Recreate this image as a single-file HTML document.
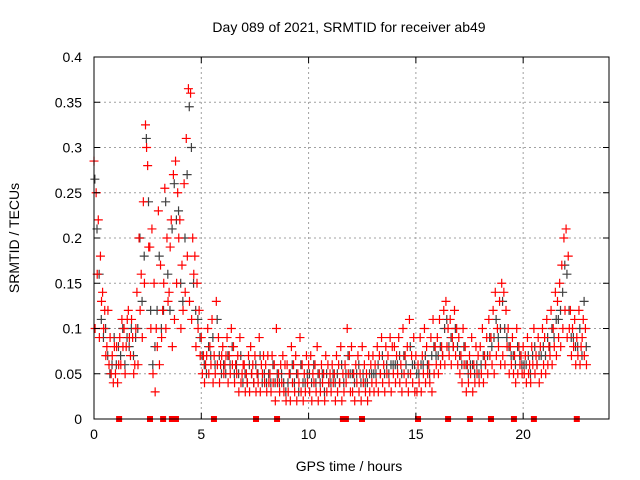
<!DOCTYPE html>
<html><head><meta charset="utf-8"><style>
body{margin:0;background:#fff}
svg{display:block;font-family:"Liberation Sans",sans-serif}
</style></head><body>
<svg id="chart" width="640" height="480" xmlns="http://www.w3.org/2000/svg">
<text x="349" y="32" font-size="14" text-anchor="middle" fill="#000">Day 089 of 2021, SRMTID for receiver ab49</text>
<text x="349" y="471" font-size="14" text-anchor="middle" fill="#000">GPS time / hours</text>
<text transform="translate(19,238) rotate(-90)" font-size="14" text-anchor="middle" fill="#000">SRMTID / TECUs</text>
<g id="grid"></g><g id="blk"></g><g id="red"></g><g id="sq"></g><g id="axes"></g>
</svg>
<script>
const hours=[0.0,0.1,0.2,0.3,0.4,0.5,0.6,0.7,0.8,0.9,1.0,1.1,1.2,1.3,1.4,1.5,1.6,1.7,1.8,1.9,2.0,2.1,2.2,2.3,2.4,2.5,2.6,2.7,2.8,2.9,3.0,3.1,3.2,3.3,3.4,3.5,3.6,3.7,3.8,3.9,4.0,4.1,4.2,4.3,4.4,4.5,4.6,4.7,4.8,4.9,5.0,5.1,5.2,5.3,5.4,5.5,5.6,5.7,5.8,5.9,6.0,6.1,6.2,6.3,6.4,6.5,6.6,6.7,6.8,6.9,7.0,7.1,7.2,7.3,7.4,7.5,7.6,7.7,7.8,7.9,8.0,8.1,8.2,8.3,8.4,8.5,8.6,8.7,8.8,8.9,9.0,9.1,9.2,9.3,9.4,9.5,9.6,9.7,9.8,9.9,10.0,10.1,10.2,10.3,10.4,10.5,10.6,10.7,10.8,10.9,11.0,11.1,11.2,11.3,11.4,11.5,11.6,11.7,11.8,11.9,12.0,12.1,12.2,12.3,12.4,12.5,12.6,12.7,12.8,12.9,13.0,13.1,13.2,13.3,13.4,13.5,13.6,13.7,13.8,13.9,14.0,14.1,14.2,14.3,14.4,14.5,14.6,14.7,14.8,14.9,15.0,15.1,15.2,15.3,15.4,15.5,15.6,15.7,15.8,15.9,16.0,16.1,16.2,16.3,16.4,16.5,16.6,16.7,16.8,16.9,17.0,17.1,17.2,17.3,17.4,17.5,17.6,17.7,17.8,17.9,18.0,18.1,18.2,18.3,18.4,18.5,18.6,18.7,18.8,18.9,19.0,19.1,19.2,19.3,19.4,19.5,19.6,19.7,19.8,19.9,20.0,20.1,20.2,20.3,20.4,20.5,20.6,20.7,20.8,20.9,21.0,21.1,21.2,21.3,21.4,21.5,21.6,21.7,21.8,21.9,22.0,22.1,22.2,22.3,22.4,22.5,22.6,22.7,22.8,22.9];
const redA=[.285,.25,.22,.18,.14,.12,.08,.06,.05,.04, .05,.04,.09,.11,.1,.08,.12,.07,.09,.06, .14,.2,.16,.24,.325,.28,.19,.21,.15,.1, .23,.17,.12,.255,.2,.14,.22,.27,.285,.25, .22,.17,.26,.31,.365,.36,.2,.18,.15,.12, .09,.07,.06,.1,.08,.11,.07,.13,.09,.06, .08,.06,.09,.07,.1,.08,.06,.07,.09,.05, .06,.05,.07,.08,.06,.07,.05,.09,.06,.07, .06,.07,.05,.07,.06,.1,.05,.06,.07,.06, .06,.05,.08,.06,.07,.05,.09,.06,.05,.07, .06,.07,.05,.06,.08,.05,.06,.05,.07,.06, .05,.06,.05,.07,.06,.08,.05,.06,.1,.07, .08,.05,.06,.07,.05,.08,.06,.05,.07,.06, .07,.06,.08,.07,.09,.06,.08,.07,.09,.08, .08,.07,.09,.06,.1,.07,.08,.11,.07,.09, .07,.06,.09,.07,.1,.08,.06,.09,.11,.08, .09,.11,.08,.12,.13,.1,.11,.09,.12,.1, .09,.07,.1,.08,.06,.07,.09,.06,.08,.07, .08,.1,.07,.09,.11,.09,.12,.14,.1,.13, .15,.14,.12,.1,.08,.09,.07,.1,.08,.07, .08,.07,.09,.06,.08,.1,.07,.09,.08,.1, .09,.11,.08,.12,.1,.14,.13,.15,.17,.2, .21,.18,.12,.1,.11,.09,.12,.08,.11,.1];
const redB=[.10,.16,.09,.13,.10,.07,.12,.09,.07,.08, .08,.06,.06,.08,.05,.11,.09,.11,.05,.1, .06,.12,.09,.15,.3,.19,.1,.05,.03,.08, .06,.09,.15,.1,.13,.19,.08,.11,.15,.2, .1,.12,.14,.18,.13,.11,.16,.08,.1,.07, .05,.04,.07,.05,.06,.04,.05,.06,.04,.07, .05,.07,.04,.05,.06,.04,.05,.03,.04,.06, .03,.04,.03,.05,.04,.03,.04,.03,.05,.04, .03,.04,.03,.04,.02,.04,.03,.04,.03,.02, .03,.02,.04,.03,.02,.04,.03,.02,.03,.04, .03,.02,.04,.03,.02,.03,.04,.02,.03,.04, .03,.04,.02,.03,.04,.02,.03,.04,.05,.03, .03,.02,.04,.03,.02,.04,.03,.02,.03,.04, .03,.04,.03,.05,.04,.03,.05,.04,.03,.05, .04,.05,.04,.03,.05,.04,.03,.05,.04,.03, .03,.04,.03,.05,.04,.05,.04,.03,.05,.06, .05,.06,.07,.06,.08,.07,.06,.08,.07,.06, .05,.04,.06,.03,.04,.05,.03,.04,.05,.04, .05,.04,.06,.05,.07,.06,.05,.07,.08,.06, .07,.06,.08,.05,.06,.05,.04,.05,.06,.05, .05,.04,.05,.04,.06,.05,.06,.04,.05,.06, .05,.06,.07,.06,.08,.07,.09,.08,.1,.12, .09,.1,.07,.08,.06,.07,.06,.09,.07,.06];
const blk=[.265,.21,.16,.11,.09,.1,.07,.05,.06,.09, .06,.08,.07,.1,.06,.09,.08,.1,.07,.09, .1,.2,.13,.18,.31,.24,.12,.06,.08,.12, .18,.1,.12,.24,.16,.12,.21,.26,.22,.23, .15,.13,.2,.27,.345,.3,.15,.12,.11,.09, .07,.06,.05,.08,.07,.09,.06,.11,.07,.05, .06,.05,.07,.06,.08,.05,.06,.05,.07,.04, .05,.04,.06,.05,.04,.06,.05,.07,.04,.05, .04,.05,.04,.06,.04,.05,.04,.05,.04,.03, .04,.05,.06,.04,.05,.03,.06,.04,.04,.05, .05,.04,.06,.04,.05,.04,.05,.03,.05,.04, .04,.05,.04,.05,.04,.06,.04,.05,.07,.05, .05,.04,.05,.06,.04,.05,.04,.04,.05,.05, .05,.05,.06,.05,.07,.05,.06,.05,.06,.06, .06,.06,.07,.05,.07,.06,.05,.08,.06,.06, .05,.05,.06,.06,.07,.06,.05,.07,.08,.07, .07,.08,.07,.1,.11,.08,.09,.08,.1,.08, .07,.06,.08,.06,.05,.06,.06,.05,.06,.05, .06,.07,.06,.07,.09,.08,.09,.11,.09,.1, .13,.1,.09,.08,.07,.07,.06,.08,.07,.06, .06,.06,.07,.05,.07,.08,.06,.07,.07,.08, .07,.09,.08,.1,.09,.11,.11,.12,.14,.17, .16,.12,.09,.09,.08,.08,.1,.07,.13,.08];
const gapHours=[1.17,2.61,3.22,3.63,3.82,5.59,7.55,8.53,11.6,11.74,12.49,15.1,16.5,17.52,18.5,19.57,20.5,22.5];
const xTicks=[0,5,10,15,20];
const yTicks=[0,0.05,0.1,0.15,0.2,0.25,0.3,0.35,0.4];
const yLabels=["0","0.05","0.1","0.15","0.2","0.25","0.3","0.35","0.4"];

const L=94,R=609,T=57,B=419;
const X=h=>L+h/24*(R-L);
const Y=v=>B-v/0.4*(B-T);
const NS="http://www.w3.org/2000/svg";
function mk(tag,attrs,parent){const e=document.createElementNS(NS,tag);for(const k in attrs)e.setAttribute(k,attrs[k]);parent.appendChild(e);return e;}
const grid=document.getElementById('grid'),axes=document.getElementById('axes');
xTicks.forEach(t=>{
  const x=X(t);
  if(t>0){const g=mk('line',{x1:x,x2:x,y1:T,y2:B,stroke:'#a0a0a0','stroke-dasharray':'2,3'},grid);
  
  }
  mk('line',{x1:x,x2:x,y1:B,y2:B-6,stroke:'#000'},axes);
  mk('line',{x1:x,x2:x,y1:T,y2:T+6,stroke:'#000'},axes);
  const tx=mk('text',{x:x,y:B+20,'font-size':14,'text-anchor':'middle'},axes);
  tx.textContent=t;
  
  
});
yTicks.forEach((t,i)=>{
  const y=Y(t);
  if(t>0&&t<0.4){const g=mk('line',{x1:L,x2:R,y1:y,y2:y,stroke:'#a0a0a0','stroke-dasharray':'2,3'},grid);
  
  }
  mk('line',{x1:L,x2:L+6,y1:y,y2:y,stroke:'#000'},axes);
  mk('line',{x1:R,x2:R-6,y1:y,y2:y,stroke:'#000'},axes);
  const tx=mk('text',{x:L-12,y:y+5,'font-size':14,'text-anchor':'end'},axes);
  tx.textContent=yLabels[i];
  
  
});
const fr=mk('rect',{x:L,y:T,width:R-L,height:B-T,fill:'none',stroke:'#000'},axes);


function plus(g,h,v,c,name){
  const x=X(h),y=Y(v);
  const p=mk('path',{d:`M${x-4.5} ${y}H${x+4.5}M${x} ${y-4.5}V${y+4.5}`,stroke:c,'stroke-width':1.2,fill:'none'},g);
  
  
}
const gb=document.getElementById('blk'),gr=document.getElementById('red'),gs=document.getElementById('sq');
hours.forEach((h,i)=>{plus(gb,h+0.04,blk[i],'#404040','black-point');});
hours.forEach((h,i)=>{plus(gr,h,redA[i],'#ff0000','red-point');plus(gr,h+0.05,redB[i],'#ff0000','red-point');});
gapHours.forEach(h=>{
  const r=mk('rect',{x:X(h)-3,y:B-3,width:6,height:6,fill:'#ff0000'},gs);
  
  
});
</script>
</body></html>
